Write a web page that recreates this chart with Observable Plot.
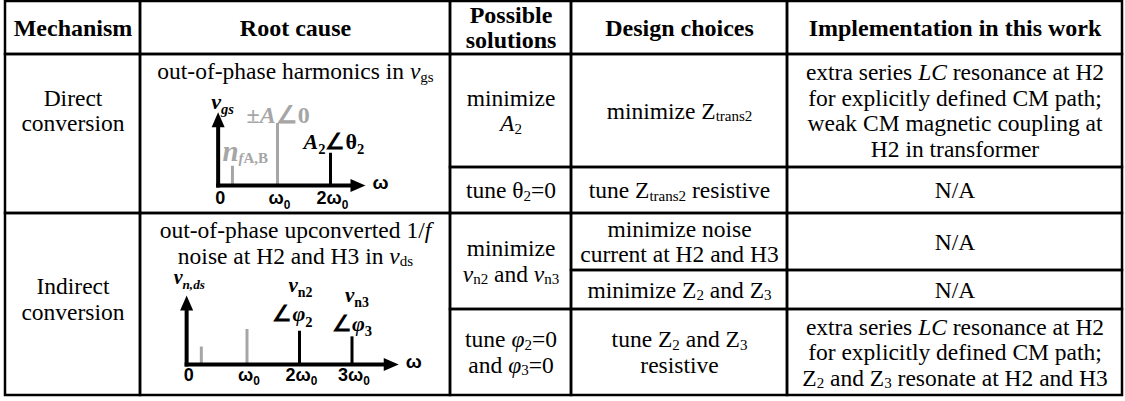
<!DOCTYPE html>
<html>
<head>
<meta charset="utf-8">
<script src="https://cdn.jsdelivr.net/npm/d3@7"></script>
<script src="https://cdn.jsdelivr.net/npm/@observablehq/plot@0.6"></script>
<style>
  html, body { margin: 0; padding: 0; background: #fff; }
  #wrap { position: relative; width: 1125px; height: 401px; overflow: hidden; }
  #wrap svg { position: absolute; overflow: visible; max-width: none; }
</style>
</head>
<body>
<div id="wrap"></div>
<script>
// ================= DATA =================
// markup: *{..} italic, _{..} subscript, _*{..} italic subscript
const headers = ["Mechanism", "Root cause", "Possible\nsolutions", "Design choices", "Implementation in this work"];
const mechanisms = ["Direct\nconversion", "Indirect\nconversion"];
const rootCauses = [
  "out-of-phase harmonics in *{v}_{gs}",
  "out-of-phase upconverted 1/*{f}\nnoise at H2 and H3 in *{v}_{ds}"
];
const possibleSolutions = [
  "minimize\n*{A}_{2}",
  "tune θ_{2}=0",
  "minimize\n*{v}_{n2} and *{v}_{n3}",
  "tune *{φ}_{2}=0\nand *{φ}_{3}=0"
];
const designChoices = [
  "minimize Z_{trans2}",
  "tune Z_{trans2} resistive",
  "minimize noise\ncurrent at H2 and H3",
  "minimize Z_{2} and Z_{3}",
  "tune Z_{2} and Z_{3}\nresistive"
];
const implementations = [
  "extra series *{LC} resonance at H2\nfor explicitly defined CM path;\nweak CM magnetic coupling at\nH2 in transformer",
  "N/A",
  "N/A",
  "N/A",
  "extra series *{LC} resonance at H2\nfor explicitly defined CM path;\nZ_{2} and Z_{3} resonate at H2 and H3"
];

// spectrum of v_gs (direct conversion); frequency in units of ω0
const spec1Freq = [0.15, 1, 2];
const spec1Amp = [0.31, 1.0, 0.52];
const spec1Kind = ["noise", "fundamental", "harmonic"];
const spec1Labels = ["*{n}", "±*{A}∠0", "*{A}_{2}∠θ_{2}"];
const spec1SubLabels = ["*{f}A,B", "", ""];
const spec1Ticks = [0, 1, 2];
const spec1TickLabels = ["0", "ω_{0}", "2ω_{0}"];
const spec1AxisName = "*{v}_*{gs}";

// spectrum of v_n,ds (indirect conversion)
const spec2Freq = [0.13, 1, 2, 3];
const spec2Amp = [0.5, 1.0, 0.95, 0.79];
const spec2Kind = ["noise", "fundamental", "harmonic", "harmonic"];
const spec2Labels = ["", "", "*{v}_{n2}", "*{v}_{n3}"];
const spec2SubLabels = ["", "", "∠*{φ}_{2}", "∠*{φ}_{3}"];
const spec2Ticks = [0, 1, 2, 3];
const spec2TickLabels = ["0", "ω_{0}", "2ω_{0}", "3ω_{0}"];
const spec2AxisName = "*{v}_*{n,ds}";

const kinds = ["noise", "fundamental", "harmonic"];

// ================= LAYOUT / STYLE =================
const W = 1125, H = 401;
const GRAY = "#a6a6a6";
const SERIF = "'Liberation Serif', 'Times New Roman', Times, serif";
const SANS = "'Liberation Sans', Arial, Helvetica, sans-serif";
const colEdges = [5, 140, 450, 571, 787, 1122];
const rowEdges = [1, 54, 167, 213, 270, 309, 395];
const FS = 23.5, HFS = 24, LH = 25.5;

const columns = [
  {texts: headers, spans: [[0,1],[0,1],[0,1],[0,1],[0,1]], header: true, perCol: true},
  {texts: mechanisms, col: 0, spans: [[1,3],[3,6]], textSpans: [[1,2],[3,6]], shift: [0, -5]},
  {texts: rootCauses, col: 1, spans: [[1,3],[3,6]], top: 17},
  {texts: possibleSolutions, col: 2, spans: [[1,2],[2,3],[3,5],[5,6]]},
  {texts: designChoices, col: 3, spans: [[1,2],[2,3],[3,4],[4,5],[5,6]]},
  {texts: implementations, col: 4, spans: [[1,2],[2,3],[3,4],[4,5],[5,6]]}
];

const cells = [], bodyLines = [], headLines = [];
for (const c of columns) {
  c.texts.forEach((t, i) => {
    const col = c.perCol ? i : c.col;
    const [r0, r1] = c.spans[i];
    const x1 = colEdges[col], x2 = colEdges[col + 1];
    const y1 = rowEdges[r0], y2 = rowEdges[r1];
    cells.push({x1, x2, y1, y2});
    const lines = t.split("\n");
    const [t0, t1] = c.textSpans ? c.textSpans[i] : [r0, r1];
    const cy = (rowEdges[t0] + rowEdges[t1]) / 2 + (c.shift ? c.shift[i] : 0);
    lines.forEach((line, k) => {
      const y = c.top != null ? y1 + c.top + k * LH : cy + (k - (lines.length - 1) / 2) * LH;
      (c.header ? headLines : bodyLines).push({x: (x1 + x2) / 2, y, text: line});
    });
  });
}

// ================= RICH TEXT =================
function richify(root, subRatio, shiftRatio) {
  root.querySelectorAll("text").forEach(t => {
    const s = t.textContent;
    if (!/(\*|_)\{/.test(s)) return;
    const fs = parseFloat(getComputedStyle(t).fontSize) || 16;
    const parts = s.split(/(_\*\{[^}]*\}|_\{[^}]*\}|\*\{[^}]*\})/).filter(p => p !== "");
    while (t.firstChild) t.removeChild(t.firstChild);
    let cur = 0;
    for (const p of parts) {
      let m, txt = p, italic = false, sub = false;
      if ((m = p.match(/^_\*\{([^}]*)\}$/))) { txt = m[1]; sub = true; italic = true; }
      else if ((m = p.match(/^_\{([^}]*)\}$/))) { txt = m[1]; sub = true; }
      else if ((m = p.match(/^\*\{([^}]*)\}$/))) { txt = m[1]; italic = true; }
      const ts = document.createElementNS("http://www.w3.org/2000/svg", "tspan");
      const target = sub ? fs * shiftRatio : 0;
      if (target !== cur) { ts.setAttribute("dy", (target - cur).toFixed(2)); cur = target; }
      if (sub) ts.setAttribute("font-size", (fs * subRatio).toFixed(2));
      if (italic) ts.setAttribute("font-style", "italic");
      ts.textContent = txt;
      t.appendChild(ts);
    }
  });
}

// ================= TABLE =================
const wrap = document.getElementById("wrap");
const table = Plot.plot({
  width: W, height: H, margin: 0,
  x: {domain: [0, W], range: [0, W], axis: null},
  y: {domain: [0, H], range: [0, H], axis: null},
  style: {background: "white", fontFamily: SERIF, color: "black"},
  marks: [
    Plot.rect(cells, {x1: "x1", x2: "x2", y1: "y1", y2: "y2", fill: "none", stroke: "black", strokeWidth: 2.5}),
    Plot.text(bodyLines, {x: "x", y: "y", text: "text", fontSize: FS, fill: "black", fontFamily: SERIF}),
    Plot.text(headLines, {x: "x", y: "y", text: "text", fontSize: HFS, fontWeight: "bold", fill: "black", fontFamily: SERIF})
  ]
});
table.style.left = "0px"; table.style.top = "0px";
wrap.appendChild(table);
richify(table, 0.64, 0.11);

// ================= SPECTRA =================
function spectrum(cfg) {
  const pts = cfg.freq.map((f, i) => ({freq: f, amp: cfg.amp[i], kind: cfg.kind[i], label: cfg.labels[i], sub: cfg.subLabels[i]}));
  const ax = cfg.axis;
  // the origin label sits under the vertical axis
  const ticks = cfg.ticks.map((v, i) => ({v: v === 0 ? ax.x0 : v, label: cfg.tickLabels[i]}));
  const shafts = [
    {x1: ax.x0, y1: 0, x2: ax.x0, y2: ax.yTip - ax.yHead},
    {x1: ax.x0, y1: 0, x2: ax.xTip - ax.xHead, y2: 0}
  ];
  const heads = [{x: ax.x0, y: ax.yTip, rot: 0}, {x: ax.xTip, y: 0, rot: 90}];
  const marks = [
    Plot.ruleX(pts, {x: "freq", y1: 0, y2: "amp", stroke: "kind", strokeWidth: 3}),
    Plot.link(shafts, {x1: "x1", y1: "y1", x2: "x2", y2: "y2", stroke: "black", strokeWidth: 4, strokeLinecap: "square"}),
    Plot.vector(heads, {x: "x", y: "y", rotate: "rot", length: 15, r: 6.5, shape: "spike", anchor: "end", fill: "black", stroke: "none"}),
    Plot.text(ticks, {x: "v", y: 0, text: "label", dx: 2, dy: cfg.tickDy, fontFamily: SANS, fontWeight: "bold", fontSize: 18, fill: "black"}),
    Plot.text([heads[1]], {x: "x", y: "y", text: () => "ω", dx: 15, dy: -3, fontFamily: SANS, fontWeight: "bold", fontSize: 19, fill: "black"}),
    Plot.text([heads[0]], {x: "x", y: "y", text: () => cfg.axisName, textAnchor: "start", dx: cfg.nameDx, dy: cfg.nameDy, fontFamily: SERIF, fontWeight: "bold", fontSize: cfg.nameSize, fill: "black"})
  ];
  cfg.labelStyle.forEach((specs, i) => {
    for (const st of specs) {
      marks.push(Plot.text([pts[i]], {x: "freq", y: "amp", text: st.field, fill: "kind", textAnchor: st.anchor,
        dx: st.dx, dy: st.dy, fontFamily: SERIF, fontWeight: "bold", fontSize: st.size}));
    }
  });
  const svg = Plot.plot({
    width: cfg.width, height: cfg.height, margin: 0,
    x: {domain: [0, 1], range: cfg.xRange, axis: null},
    y: {domain: [0, 1], range: cfg.yRange, axis: null},
    color: {domain: kinds, range: [GRAY, GRAY, "black"]},
    style: {background: "transparent", overflow: "visible"},
    marks
  });
  svg.style.left = cfg.left + "px"; svg.style.top = cfg.top + "px";
  wrap.appendChild(svg);
  richify(svg, 0.66, 0.25);
}

spectrum({
  freq: spec1Freq, amp: spec1Amp, kind: spec1Kind, labels: spec1Labels, subLabels: spec1SubLabels,
  ticks: spec1Ticks, tickLabels: spec1TickLabels, axisName: spec1AxisName,
  left: 185, top: 88, width: 225, height: 122,
  xRange: [39, 92], yRange: [97, 35],
  axis: {x0: -0.12, yTip: 1.18, yHead: 0.16, xTip: 2.66, xHead: 0.19},
  tickDy: 13, nameDx: -7, nameDy: -10.7, nameSize: 22,
  labelStyle: [
    [{field: "label", anchor: "start", dx: -10, dy: -15, size: 29}, {field: "sub", anchor: "start", dx: 6, dy: -7.6, size: 15}],
    [{field: "label", anchor: "start", dx: -31, dy: -7.7, size: 24}],
    [{field: "label", anchor: "start", dx: -27, dy: -11.8, size: 22}]
  ]
});

spectrum({
  freq: spec2Freq, amp: spec2Amp, kind: spec2Kind, labels: spec2Labels, subLabels: spec2SubLabels,
  ticks: spec2Ticks, tickLabels: spec2TickLabels, axisName: spec2AxisName,
  left: 160, top: 262, width: 260, height: 132,
  xRange: [34, 86.5], yRange: [102, 67],
  axis: {x0: -0.15, yTip: 1.97, yHead: 0.29, xTip: 3.89, xHead: 0.19},
  tickDy: 10.6, nameDx: -13, nameDy: -18, nameSize: 20,
  labelStyle: [
    [],
    [],
    [{field: "label", anchor: "middle", dx: 1, dy: -46, size: 21}, {field: "sub", anchor: "middle", dx: -7, dy: -17, size: 22}],
    [{field: "label", anchor: "middle", dx: 5, dy: -42, size: 21}, {field: "sub", anchor: "middle", dx: 0, dy: -13, size: 22}]
  ]
});
</script>
</body>
</html>
